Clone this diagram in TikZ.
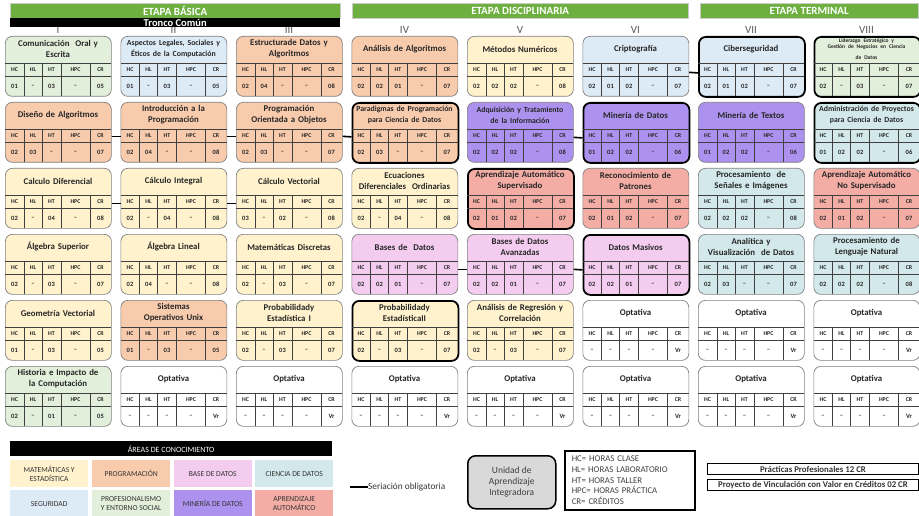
\documentclass[tikz,border=0pt]{standalone}
\usepackage{fontspec}
\setmainfont{Carlito}
\usetikzlibrary{positioning,calc}
\definecolor{etapagreen}{HTML}{6DB040}
\definecolor{mateyel}{HTML}{FFF2CC}
\definecolor{progorange}{HTML}{F8CBAD}
\definecolor{bdpink}{HTML}{F4CCF0}
\definecolor{cdteal}{HTML}{D2E8EA}
\definecolor{segblue}{HTML}{DDEBF7}
\definecolor{profgreen}{HTML}{E2EFDA}
\definecolor{minpurple}{HTML}{AC92EE}
\definecolor{aared}{HTML}{F4ADA5}
\definecolor{boxgray}{HTML}{7F7F7F}
\definecolor{uagray}{HTML}{D9D9D9}

\tikzset{
  uabox/.style={draw=boxgray, line width=0.7pt, rounded corners=7pt,
    minimum width=106pt, minimum height=60pt, inner sep=0pt},
  integradora/.style={draw=black, line width=1.8pt},
  mate/.style={fill=mateyel}, prog/.style={fill=progorange},
  bd/.style={fill=bdpink}, cdat/.style={fill=cdteal},
  segu/.style={fill=segblue}, prof/.style={fill=profgreen},
  mine/.style={fill=minpurple}, aaut/.style={fill=aared},
  opta/.style={fill=white},
  titulo/.style={font=\fontsize{8.8}{11}\selectfont\bfseries, text width=104pt, align=center,
    inner sep=0pt, text=black!85},
  tabla/.style={draw=black!75, line width=0.5pt},
  horas/.style={font=\fontsize{5.9}{6}\selectfont\bfseries, inner sep=0pt, text=black!85},
  valor/.style={font=\fontsize{6.5}{7}\selectfont\bfseries, inner sep=0pt, text=black!85},
  seria/.style={draw=black, line width=1.6pt},
  etapa/.style={fill=etapagreen, draw=black!20, inner sep=0pt, text=white,
    font=\fontsize{11}{11}\selectfont\bfseries},
  semestre/.style={font=\fontsize{11}{11}\selectfont, text=black!65, inner sep=0pt},
  area/.style={anchor=north west, minimum width=78pt, minimum height=27pt, inner sep=0pt,
    align=center, font=\fontsize{7.6}{9}\selectfont, text=black!80},
}

% one course box: column, row, style, title, HC, HL, HT, HPC, CR
\newcommand{\curso}[9]{%
  \begin{scope}[shift={({5+115.5*(#1-1)},{36+66*(#2-1)})}]
    \node[uabox,#3,anchor=north west] (c#1#2) at (0,0) {};
    \node[titulo] (t#1#2) at (53,13) {#4};
    \draw[tabla] (0,27) -- (106,27) (0,40) -- (106,40);
    \foreach \xx in {19,37,56,85} {\draw[tabla] (\xx,27) -- (\xx,60);}
    \foreach \hh/\xx in {HC/9.5,HL/28,HT/46.5,HPC/70.5,CR/95.5}
      {\node[horas] at (\xx,33.5) {\hh};}
    \node[valor] at (9.5,50.5) {#5};
    \node[valor] at (28,50.5) {#6};
    \node[valor] at (46.5,50.5) {#7};
    \node[valor] at (70.5,50.5) {#8};
    \node[valor] at (95.5,50.5) {#9};
  \end{scope}}
\newcommand{\chico}{\fontsize{7.8}{10}\selectfont}

\begin{document}
\begin{tikzpicture}[x=1pt, y=-1pt]
  \useasboundingbox (0,0) rectangle (919,516);

  % semestres
  \foreach \nn/\ss in {1/I,2/II,3/III,4/IV,5/V,6/VI,7/VII,8/VIII}
    {\node[semestre] (sem\nn) at ({58+115.5*(\nn-1)},30) {\ss};}

  % etapas
  \node[etapa, minimum width=330pt, minimum height=15pt, anchor=north west] (basica) at (10,3) {ETAPA BÁSICA};
  \node[fill=black, text=white, inner sep=0pt, minimum width=330pt, minimum height=9pt,
        anchor=north west, font=\fontsize{10.5}{10}\selectfont\bfseries] (tronco) at (10,18) {Tronco Común};
  \node[etapa, minimum width=336pt, minimum height=15pt, anchor=north west] (disciplinaria) at (352,3) {ETAPA DISCIPLINARIA};
  \node[etapa, minimum width=218pt, minimum height=15pt, anchor=north west] (terminal) at (700,3) {ETAPA TERMINAL};

  % fila 1
  \curso{1}{1}{prof}{Comunicación \ Oral y\\Escrita}{01}{--}{03}{--}{05}
  \curso{2}{1}{segu}{\chico Aspectos Legales, Sociales y\\Éticos de la Computación}{01}{--}{03}{--}{05}
  \curso{3}{1}{prog}{Estructurade Datos y\\Algoritmos}{02}{04}{--}{--}{08}
  \curso{4}{1}{prog}{Análisis de Algoritmos}{02}{02}{01}{--}{07}
  \curso{5}{1}{mate}{Métodos Numéricos}{02}{02}{02}{--}{08}
  \curso{6}{1}{segu}{Criptografía}{02}{01}{02}{--}{07}
  \curso{7}{1}{segu,integradora}{Ciberseguridad}{02}{01}{02}{--}{07}
  \curso{8}{1}{prof,integradora}{\fontsize{5.5}{6.2}\selectfont Liderazgo Estratégico y\\Gestión de Negocios en Ciencia\\de Datos}{02}{--}{03}{--}{07}
  % fila 2
  \curso{1}{2}{prog}{Diseño de Algoritmos}{02}{03}{--}{--}{07}
  \curso{2}{2}{prog}{Introducción a la\\Programación}{02}{04}{--}{--}{08}
  \curso{3}{2}{prog}{Programación\\Orientada a Objetos}{02}{03}{--}{--}{07}
  \curso{4}{2}{prog,integradora}{\chico Paradigmas de Programación\\para Ciencia de Datos}{02}{03}{--}{--}{07}
  \curso{5}{2}{mine}{\chico Adquisición y Tratamiento\\de la Información}{02}{02}{02}{--}{08}
  \curso{6}{2}{mine,integradora}{Minería de Datos}{01}{02}{02}{--}{06}
  \curso{7}{2}{mine}{Minería de Textos}{01}{02}{02}{--}{06}
  \curso{8}{2}{cdat,integradora}{\chico Administración de Proyectos\\para Ciencia de Datos}{01}{02}{02}{--}{06}
  % fila 3
  \curso{1}{3}{mate}{Calculo Diferencial}{02}{--}{04}{--}{08}
  \curso{2}{3}{mate}{Cálculo Integral}{02}{--}{04}{--}{08}
  \curso{3}{3}{mate}{Cálculo Vectorial}{03}{--}{02}{--}{08}
  \curso{4}{3}{mate}{Ecuaciones\\Diferenciales \ Ordinarias}{02}{--}{04}{--}{08}
  \curso{5}{3}{aaut,integradora}{Aprendizaje Automático\\Supervisado}{02}{01}{02}{--}{07}
  \curso{6}{3}{aaut}{Reconocimiento de\\Patrones}{02}{01}{02}{--}{07}
  \curso{7}{3}{cdat}{Procesamiento \ de\\Señales e Imágenes}{02}{02}{02}{--}{08}
  \curso{8}{3}{aaut}{Aprendizaje Automático\\No Supervisado}{02}{01}{02}{--}{07}
  % fila 4
  \curso{1}{4}{mate}{Álgebra Superior}{02}{--}{03}{--}{07}
  \curso{2}{4}{mate}{Álgebra Lineal}{02}{04}{--}{--}{08}
  \curso{3}{4}{mate}{Matemáticas Discretas}{02}{--}{03}{--}{07}
  \curso{4}{4}{bd}{Bases de \ Datos}{02}{02}{01}{--}{07}
  \curso{5}{4}{bd}{Bases de Datos\\Avanzadas}{02}{02}{01}{--}{07}
  \curso{6}{4}{bd,integradora}{Datos Masivos}{02}{02}{01}{--}{07}
  \curso{7}{4}{cdat}{Analítica y\\Visualización \ de Datos}{02}{03}{--}{--}{07}
  \curso{8}{4}{cdat}{Procesamiento de\\Lenguaje Natural}{02}{02}{02}{--}{08}
  % fila 5
  \curso{1}{5}{mate}{Geometría Vectorial}{01}{--}{03}{--}{05}
  \curso{2}{5}{prog}{Sistemas\\Operativos Unix}{01}{--}{03}{--}{05}
  \curso{3}{5}{mate}{Probabilidady\\Estadística I}{02}{--}{03}{--}{07}
  \curso{4}{5}{mate,integradora}{Probabilidady\\EstadísticaII}{02}{--}{03}{--}{07}
  \curso{5}{5}{mate}{Análisis de Regresión y\\Correlación}{02}{--}{03}{--}{07}
  \curso{6}{5}{opta}{Optativa}{--}{--}{--}{--}{Vr}
  \curso{7}{5}{opta}{Optativa}{--}{--}{--}{--}{Vr}
  \curso{8}{5}{opta}{Optativa}{--}{--}{--}{--}{Vr}
  % fila 6
  \curso{1}{6}{prof}{Historia e Impacto de\\la Computación}{02}{--}{01}{--}{05}
  \foreach \cc in {2,...,8}
    {\curso{\cc}{6}{opta}{Optativa}{--}{--}{--}{--}{Vr}}

  % seriacion obligatoria
  \draw[seria] ([yshift=-6pt]c61.east) -- ([yshift=-6pt]c71.west);
  \draw[seria] ([yshift=-4pt]c12.east) -- ([yshift=-4pt]c22.west);
  \draw[seria] ([yshift=-4pt]c22.east) -- ([yshift=-4pt]c32.west);
  \draw[seria] ([yshift=-4pt]c32.east) -- ([yshift=-4pt]c42.west);
  \draw[seria] ([yshift=-5pt]c52.east) -- ([yshift=-5pt]c62.west);
  \draw[seria] ([yshift=-5pt]c13.east) -- ([yshift=-5pt]c23.west);
  \draw[seria] ([yshift=-5pt]c23.east) -- ([yshift=-5pt]c33.west);
  \draw[seria] ([yshift=-5pt]c44.east) -- ([yshift=-5pt]c54.west);
  \draw[seria] ([yshift=-5pt]c54.east) -- ([yshift=-5pt]c64.west);

  % areas de conocimiento
  \node[fill=black, text=white, inner sep=0pt, minimum width=322pt, minimum height=15pt,
        anchor=north west, font=\fontsize{8}{8}\selectfont] (areas) at (10,441) {ÁREAS DE CONOCIMIENTO};
  \node[area, fill=mateyel] (amat) at (10,460) {MATEMÁTICAS Y\\ESTADÍSTICA};
  \node[area, fill=progorange] (aprog) at (92,460) {PROGRAMACIÓN};
  \node[area, fill=bdpink] (abd) at (173.5,460) {BASE DE DATOS};
  \node[area, fill=cdteal] (acd) at (255,460) {CIENCIA DE DATOS};
  \node[area, fill=segblue] (aseg) at (10,490) {SEGURIDAD};
  \node[area, fill=profgreen] (aprof) at (92,490) {PROFESIONALISMO\\Y ENTORNO SOCIAL};
  \node[area, fill=minpurple] (amin) at (173.5,490) {MINERÍA DE DATOS};
  \node[area, fill=aared] (aaa) at (255,490) {APRENDIZAJE\\AUTOMÁTICO};

  \coordinate (s0) at (350,487);
  \node[anchor=west, inner sep=0pt, font=\fontsize{9.3}{10}\selectfont, text=black!80] (seriacion) at (368,487) {Seriación obligatoria};
  \draw[draw=black, line width=1.2pt] (s0) -- (seriacion.west);

  \node[draw=black, line width=1.5pt, fill=uagray, rounded corners=8pt, anchor=north west,
        minimum width=88pt, minimum height=53pt, align=center, text=black!75,
        font=\fontsize{9.5}{11}\selectfont] (unidad) at (467,455) {Unidad de\\Aprendizaje\\Integradora};
  \node[draw=black, line width=1.5pt, anchor=north west, minimum width=130pt, minimum height=59pt,
        text width=128pt, align=left, inner sep=0pt, text=black!75,
        font=\fontsize{8.8}{10.6}\selectfont] (claves) at (564,450)
        {\hspace*{6pt}HC= HORAS CLASE\\\hspace*{6pt}HL= HORAS LABORATORIO\\\hspace*{6pt}HT= HORAS TALLER\\\hspace*{6pt}HPC= HORAS PRÁCTICA\\\hspace*{6pt}CR= CRÉDITOS};

  \node[draw=black, line width=0.9pt, anchor=north west, minimum width=211pt, minimum height=11pt,
        inner sep=0pt, font=\fontsize{8.8}{8}\selectfont\bfseries, text=black!80] (practicas) at (707,463)
        {Prácticas Profesionales 12 CR};
  \node[draw=black, line width=0.9pt, anchor=north west, minimum width=211pt, minimum height=11pt,
        inner sep=0pt, font=\fontsize{8.8}{8}\selectfont\bfseries, text=black!80] (vinculacion) at (707,479)
        {Proyecto de Vinculación con Valor en Créditos 02 CR};
\end{tikzpicture}
\end{document}
